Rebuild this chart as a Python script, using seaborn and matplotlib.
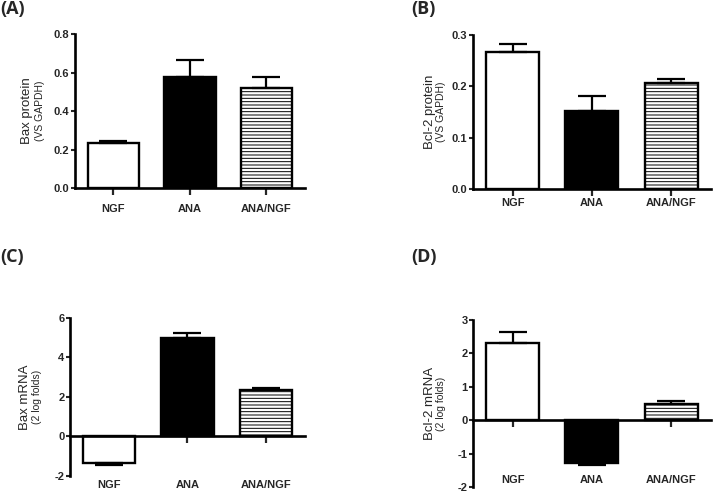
import numpy as np
import pandas as pd
import matplotlib
matplotlib.use("Agg")
import matplotlib.pyplot as plt
import matplotlib.transforms as mtransforms
import seaborn as sns

categories = ['NGF', 'ANA', 'ANA/NGF']

bax_protein = [0.232, 0.575, 0.52]
bax_protein_err = [0.013, 0.09, 0.058]

bcl2_protein = [0.268, 0.153, 0.207]
bcl2_protein_err = [0.015, 0.028, 0.008]

bax_mrna = [-1.35, 5.0, 2.33]
bax_mrna_err = [0.08, 0.22, 0.10]

bcl2_mrna = [2.30, -1.27, 0.48]
bcl2_mrna_err = [0.33, 0.07, 0.10]

sns.set_theme(style='white')
plt.rcParams['font.family'] = ['Liberation Sans', 'DejaVu Sans']
plt.rcParams['hatch.linewidth'] = 0.7
plt.rcParams['hatch.color'] = 'black'

fig = plt.figure(figsize=(7.16, 4.96), dpi=100)


def panel(rect, values, errs, ylim, yticks, ticklabels, ylab, ysub,
          letter, letter_xy, label_y, ylab_x, ysub_x, zero_axis=False):
    ax = fig.add_axes(rect)
    df = pd.DataFrame({'group': categories, 'value': values})
    sns.barplot(data=df, x='group', y='value', ax=ax, errorbar=None,
                palette=['white', 'black', 'white'], hue='group', legend=False,
                edgecolor='black', linewidth=1.7, width=0.67, saturation=1)
    ax.patches[2].set_hatch('-----')
    # one-sided error bars, away from zero
    for i, (v, e) in enumerate(zip(values, errs)):
        lo, hi = (e, 0) if v < 0 else (0, e)
        ax.errorbar(i, v, yerr=[[lo], [hi]], color='black', elinewidth=1.6,
                    capsize=10, capthick=1.6, zorder=1)
    ax.set_xlim(-0.5, 2.5)
    ax.set_ylim(*ylim)
    ax.set_yticks(yticks)
    ax.set_yticklabels(ticklabels, fontweight='bold', fontsize=8)
    ax.set_xlabel('')
    ax.set_ylabel('')
    for s in ['top', 'right']:
        ax.spines[s].set_visible(False)
    for s in ['left', 'bottom']:
        ax.spines[s].set_linewidth(1.9)
        ax.spines[s].set_color('black')
    ax.tick_params(axis='y', left=True, direction='out', length=3, width=1.5, pad=1)
    ax.tick_params(axis='x', bottom=True, direction='out', length=5, width=1.6)
    if zero_axis:
        ax.spines['bottom'].set_position(('data', 0))
    ax.set_xticks(range(3))
    ax.set_xticklabels([''] * 3)
    trans = mtransforms.blended_transform_factory(ax.transData, ax.transAxes)
    for i, c in enumerate(categories):
        ax.text(i, label_y, c, transform=trans, ha='center', va='center',
                fontweight='bold', fontsize=8)
    ax.text(ylab_x, 0.5, ylab, transform=ax.transAxes, rotation=90,
            ha='center', va='center', fontsize=9.5)
    ax.text(ysub_x, 0.5, ysub, transform=ax.transAxes, rotation=90,
            ha='center', va='center', fontsize=7.5)
    fig.text(letter_xy[0], letter_xy[1], letter, fontsize=13, fontweight='bold',
             family=['Open Sans', 'DejaVu Sans'], ha='left', va='top')
    return ax


panel([0.1047, 0.621, 0.321, 0.310], bax_protein, bax_protein_err,
      (0, 0.8), [0, 0.2, 0.4, 0.6, 0.8], ['0.0', '0.2', '0.4', '0.6', '0.8'],
      'Bax protein', '(VS GAPDH)', '(A)', (0.0, 1.0), -0.136, -0.21, -0.152)

panel([0.6606, 0.619, 0.332, 0.310], bcl2_protein, bcl2_protein_err,
      (0, 0.3), [0, 0.1, 0.2, 0.3], ['0.0', '0.1', '0.2', '0.3'],
      'Bcl-2 protein', '(VS GAPDH)', '(B)', (0.575, 1.0), -0.09, -0.18, -0.135)

panel([0.0978, 0.0403, 0.328, 0.319], bax_mrna, bax_mrna_err,
      (-2, 6), [-2, 0, 2, 4, 6], ['-2', '0', '2', '4', '6'],
      'Bax mRNA', '(2 log folds)', '(C)', (0.0, 0.5), -0.057, -0.19, -0.14,
      zero_axis=True)

panel([0.6606, 0.0181, 0.332, 0.337], bcl2_mrna, bcl2_mrna_err,
      (-2, 3), [-2, -1, 0, 1, 2, 3], ['-2', '-1', '0', '1', '2', '3'],
      'Bcl-2 mRNA', '(2 log folds)', '(D)', (0.575, 0.5), 0.042, -0.18, -0.135,
      zero_axis=True)

fig.savefig('out.png', dpi=100)
